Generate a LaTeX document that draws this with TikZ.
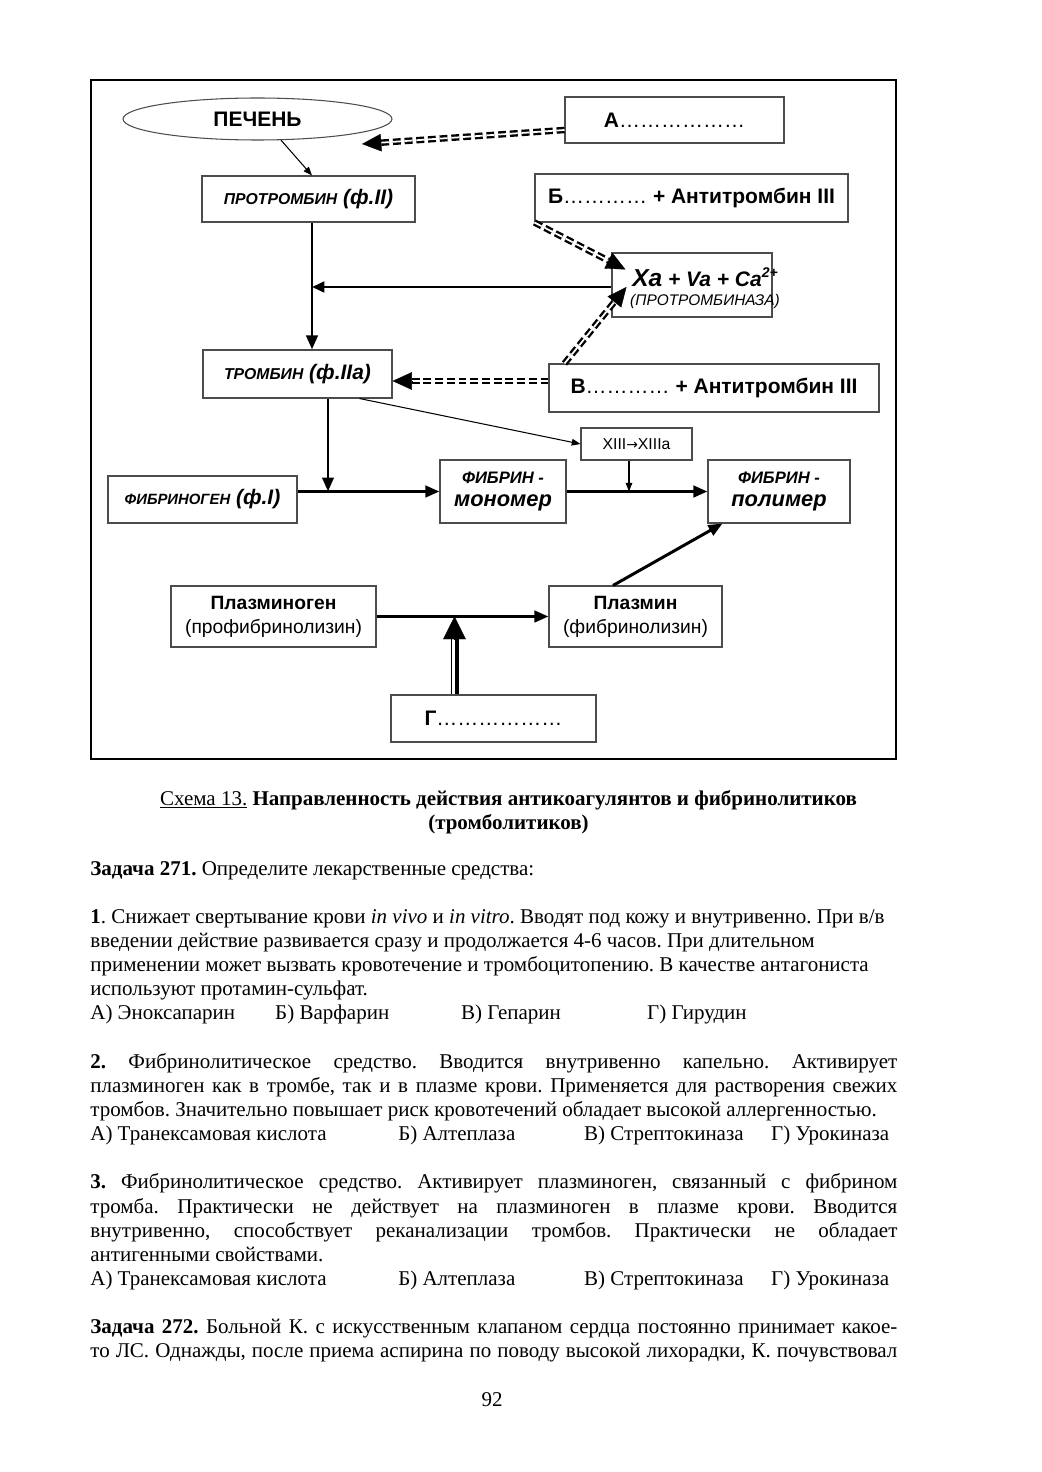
\documentclass[tikz,border=0pt]{standalone}
\usepackage{fontspec}
\setmainfont{Liberation Serif}
\newfontfamily\arialf{Liberation Sans}
\newfontfamily\djv{DejaVu Sans}
\usetikzlibrary{arrows.meta,calc,shapes.geometric}
\frenchspacing
\newcommand\fA{\arialf\fontsize{12}{13.7}\selectfont}
\newcommand\rl[1]{\hbox to 461.3pt{#1\hfil}}
\newcommand\jl[1]{\hbox to 461.3pt{#1}}
\newcommand\el{\hbox{}}
\newcommand\dda[2]{\draw[ddash, shorten >=10pt] (#1) -- (#2); \draw[bigtip] ($(#2)!11pt!(#1)$) -- (#2);}
\tikzset{
 box/.style={draw=black!70, line width=0.6pt, inner sep=0pt, font=\fA, align=center},
 sz/.style 2 args={minimum width=#1*0.5716pt, minimum height=#2*0.5716pt},
 thk/.style={line width=1.7pt, -{Triangle[length=8pt,width=6.5pt]}},
 thn/.style={line width=0.6pt, -{Triangle[length=5pt,width=3.8pt]}},
 ddash/.style={double=white, double distance=1.0pt, line width=1.35pt, dash pattern=on 4.5pt off 2.2pt},
 bigtip/.style={line width=0.2pt, -{Triangle[length=11pt,width=10pt]}},
 bi/.style={font=\fA\bfseries\itshape},
}
\begin{document}
\begin{tikzpicture}[x=0.5716pt,y=-0.5716pt]
\useasboundingbox (0,0) rectangle (1041,1472);
\draw[line width=1.2pt] (91,80) rectangle (896,759);

% nodes
\node[ellipse, draw=black!70, line width=0.6pt, sz={269}{42}, inner sep=0pt,
      font=\arialf\bfseries\fontsize{12}{14}\selectfont] (liver) at (257.5,119) {ПЕЧЕНЬ};
\node[box, sz={219}{46}] (a) at (674.5,120) {\textbf{А}………………};
\node[box, bi, sz={213}{46}] (pro) at (308.5,199) {{\fontsize{9}{11}\selectfont ПРОТРОМБИН} (ф.II)};
\node[box, sz={313}{48}] (b) at (691.5,198) {\textbf{Б}………… \textbf{+ Антитромбин III}};
\node[box, sz={160}{64}] (xa) at (692,285) {};
\node[inner sep=0pt, bi] (xat) at (705,277) {{\fontsize{14}{16}\selectfont Xa} + Va + Ca\raisebox{0.8ex}{\fontsize{8}{9}\selectfont 2+}};
\node[inner sep=0pt, font=\arialf\itshape\fontsize{8.8}{10}\selectfont] (xas) at (705,302) {(ПРОТРОМБИНАЗА)};
\node[box, bi, sz={189}{48}] (thr) at (297.5,374) {{\fontsize{9}{11}\selectfont ТРОМБИН} (ф.IIa)};
\node[box, sz={330}{48}] (v) at (714,388) {\textbf{В}………… \textbf{+ Антитромбин III}};
\node[box, sz={111}{32}, font=\arialf\fontsize{9}{10}\selectfont] (x13) at (636.5,444) {XIII{\djv\fontsize{8}{10}\selectfont →}XIIIa};
\node[box, bi, sz={189}{47}] (fg) at (202.5,499.5) {{\fontsize{8.5}{11}\selectfont ФИБРИНОГЕН} (ф.I)};
\node[box, bi, sz={126}{63}] (mono) at (503,491.5) {{\fontsize{9.5}{13.7}\selectfont ФИБРИН -}\\{\fontsize{12.5}{13.7}\selectfont мономер}};
\node[box, bi, sz={142}{63}] (poly) at (779,491.5) {{\fontsize{9.5}{13.7}\selectfont ФИБРИН -}\\{\fontsize{12.5}{13.7}\selectfont полимер}};
\node[box, sz={205}{61}, font=\arialf\fontsize{11}{13.7}\selectfont] (pg) at (273.5,616.5) {\textbf{Плазминоген}\\(профибринолизин)};
\node[box, sz={173}{61}, font=\arialf\fontsize{11}{13.7}\selectfont] (pm) at (635.5,616.5) {\textbf{Плазмин}\\(фибринолизин)};
\node[box, sz={205}{47}] (g) at (493.5,718.5) {\textbf{Г}………………};

% helper coordinates
\coordinate (vx) at (312,0);
\coordinate (vx2) at (328,0);
\coordinate (aS) at ($(a.west)+(0,10)$);
\coordinate (aE) at ($(liver.center)+(104.5,25)$);
\coordinate (bE) at ($(xa.north west)+(14,17)$);
\coordinate (vS) at ($(v.north west)+(16,0)$);
\coordinate (vE) at ($(xa.west)+(15,2)$);
\coordinate (vwS) at ($(v.west)+(0,-7)$);
\coordinate (thE) at ($(thr.east)+(0,7)$);
\coordinate (thS) at ($(thr.south)+(62,0)$);
\coordinate (x13s) at ($(x13.south)+(-7.5,0)$);
\coordinate (xaw) at ($(xa.west)+(0,2)$);
\coordinate (pmS) at ($(pm.north)+(-22.5,0)$);
\coordinate (polE) at ($(poly.south west)+(15,0)$);
\coordinate (gA) at ($(g.north)+(-39,0)$);
\coordinate (gT) at (gA |- pg.east);
\coordinate (gB) at ($(gT)+(0,22.7)$);
\coordinate (gL1) at ($(gA)+(-3.2,0)$);
\coordinate (gL2) at ($(gB)+(-3.2,0)$);
\coordinate (gR1) at ($(gA)+(2.5,0)$);
\coordinate (gR2) at ($(gB)+(2.5,0)$);

% connectors
\draw[thn] (liver.-42) -- (pro.north -| vx);
\dda{aS}{aE}
\dda{b.south west}{bE}
\dda{vS}{vE}
\dda{vwS}{thE}
\draw[thk] (pro.south -| vx) -- (thr.north -| vx);
\draw[line width=1.7pt, -{Triangle[length=7pt,width=6pt]}] (xaw) -- (xaw -| vx);
\draw[thn] (thS) -- (x13.west);
\draw[thk] (thr.south -| vx2) -- (vx2 |- mono.west);
\draw[thk] (fg.east |- mono.west) -- (mono.west);
\draw[thk] (mono.east) -- (poly.west);
\draw[thn] (x13s) -- (x13s |- mono.east);
\draw[thk] (pmS) -- (polE);
\draw[thk] (pg.east) -- (pm.west);
\draw[line width=0.9pt] (gL1) -- (gL2);
\draw[line width=2.2pt] (gR1) -- (gR2);
\draw[line width=0.2pt, -{Triangle[length=13pt,width=13pt]}] (gB) -- (gT);

% caption
\node[anchor=base, inner sep=0pt, font=\fontsize{12}{13.8}\selectfont] (cap) at (508.5,805) {\vtop{\baselineskip=13.8pt
\hbox to 520pt{\hfil\underline{Схема 13.} \textbf{Направленность действия антикоагулянтов и фибринолитиков}\hfil}
\hbox to 520pt{\hfil\textbf{(тромболитиков)}\hfil}}};

% body text
\node[anchor=base west, inner sep=0pt, font=\fontsize{12}{13.8}\selectfont] (body) at (90,875) {\vtop{\baselineskip=13.8pt \lineskiplimit=-100pt
\rl{\textbf{Задача 271.} Определите лекарственные средства:}
\el
\rl{\textbf{1}. Снижает свертывание крови \textit{in vivo} и \textit{in vitro}. Вводят под кожу и внутривенно. При в/в}
\rl{введении действие развивается сразу и продолжается 4-6 часов. При длительном}
\rl{применении может вызвать кровотечение и тромбоцитопению. В качестве антагониста}
\rl{используют протамин-сульфат.}
\rl{\makebox[105.7pt][l]{А) Эноксапарин}\makebox[106.3pt][l]{Б) Варфарин}\makebox[106.3pt][l]{В) Гепарин}Г) Гирудин}
\el
\jl{\textbf{2.} Фибринолитическое средство. Вводится внутривенно капельно. Активирует}
\jl{плазминоген как в тромбе, так и в плазме крови. Применяется для растворения свежих}
\rl{тромбов. Значительно повышает риск кровотечений обладает высокой аллергенностью.}
\rl{\makebox[176pt][l]{А) Транексамовая кислота}\makebox[106.3pt][l]{Б) Алтеплаза}\makebox[106.9pt][l]{В) Стрептокиназа}Г) Урокиназа}
\el
\jl{\textbf{3.} Фибринолитическое средство. Активирует плазминоген, связанный с фибрином}
\jl{тромба. Практически не действует на плазминоген в плазме крови. Вводится}
\jl{внутривенно, способствует реканализации тромбов. Практически не обладает}
\rl{антигенными свойствами.}
\rl{\makebox[176pt][l]{А) Транексамовая кислота}\makebox[106.3pt][l]{Б) Алтеплаза}\makebox[106.9pt][l]{В) Стрептокиназа}Г) Урокиназа}
\el
\jl{\textbf{Задача 272.} Больной К. с искусственным клапаном сердца постоянно принимает какое-}
\jl{то ЛС. Однажды, после приема аспирина по поводу высокой лихорадки, К. почувствовал}
}};

\node[anchor=base, inner sep=0pt, font=\fontsize{12}{13.8}\selectfont] (pnum) at (492,1406) {92};
\end{tikzpicture}
\end{document}
